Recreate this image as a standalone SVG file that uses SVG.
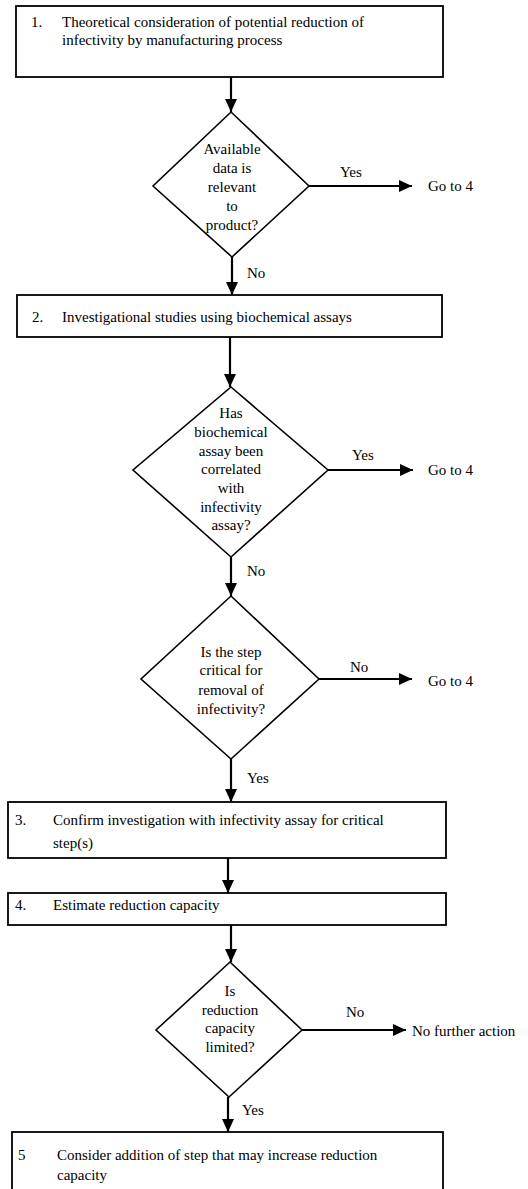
<svg xmlns="http://www.w3.org/2000/svg" width="528" height="1189" viewBox="0 0 528 1189">
<style>
.box{fill:#fff;stroke:#000;stroke-width:1.8}
.dia{fill:#fff;stroke:#000;stroke-width:1.6}
.t{font-family:"Liberation Serif","Times New Roman",serif;font-size:15px;fill:#000}
.c{text-anchor:middle}
.con line{stroke:#000;stroke-width:2.2}
</style>
<defs>
<marker id="ah" markerUnits="userSpaceOnUse" markerWidth="14" markerHeight="12" refX="13" refY="6" orient="auto">
<path d="M0,0 L13,6 L0,12 Z" fill="#000"/>
</marker>
</defs>
<rect width="528" height="1189" fill="#fff"/>
<g id="connectors" class="con">
<line x1="231" y1="77" x2="231" y2="112" marker-end="url(#ah)"/>
<line x1="309" y1="186" x2="412" y2="186" marker-end="url(#ah)"/>
<line x1="232" y1="257" x2="232" y2="295" marker-end="url(#ah)"/>
<line x1="230" y1="337" x2="230" y2="387" marker-end="url(#ah)"/>
<line x1="328" y1="470" x2="413" y2="470" marker-end="url(#ah)"/>
<line x1="231" y1="557" x2="231" y2="596" marker-end="url(#ah)"/>
<line x1="319" y1="679" x2="412" y2="679" marker-end="url(#ah)"/>
<line x1="231" y1="759" x2="231" y2="802" marker-end="url(#ah)"/>
<line x1="228" y1="858" x2="228" y2="893" marker-end="url(#ah)"/>
<line x1="231" y1="925" x2="231" y2="962" marker-end="url(#ah)"/>
<line x1="302" y1="1030" x2="406" y2="1030" marker-end="url(#ah)"/>
<line x1="228" y1="1097" x2="228" y2="1132" marker-end="url(#ah)"/>
</g>
<g id="labels">
<text class="t" x="340" y="177">Yes</text>
<text class="t" x="428" y="191">Go to 4</text>
<text class="t" x="247" y="278">No</text>
<text class="t" x="352" y="460">Yes</text>
<text class="t" x="428" y="475">Go to 4</text>
<text class="t" x="247" y="576">No</text>
<text class="t" x="350" y="672">No</text>
<text class="t" x="428" y="686">Go to 4</text>
<text class="t" x="247" y="783">Yes</text>
<text class="t" x="346" y="1017">No</text>
<text class="t" x="412" y="1036">No further action</text>
<text class="t" x="242" y="1115">Yes</text>
</g>
<g id="step1">
<rect class="box" x="16" y="6" width="427" height="71"/>
<text class="t" x="31" y="27">1.</text>
<text class="t" x="62" y="27">Theoretical consideration of potential reduction of</text>
<text class="t" x="62" y="45">infectivity by manufacturing process</text>
</g>
<g id="decision1">
<polygon class="dia" points="231,112 309,186 232,257 153,186"/>
<text class="t c" x="232" y="154">Available</text>
<text class="t c" x="232" y="173">data is</text>
<text class="t c" x="232" y="192">relevant</text>
<text class="t c" x="232" y="211">to</text>
<text class="t c" x="232" y="230">product?</text>
</g>
<g id="step2">
<rect class="box" x="17" y="295" width="425" height="42"/>
<text class="t" x="32" y="322">2.</text>
<text class="t" x="62" y="322">Investigational studies using biochemical assays</text>
</g>
<g id="decision2">
<polygon class="dia" points="231,387 328,470 231,557 133,470"/>
<text class="t c" x="231" y="418">Has</text>
<text class="t c" x="231" y="437">biochemical</text>
<text class="t c" x="231" y="456">assay been</text>
<text class="t c" x="231" y="474">correlated</text>
<text class="t c" x="231" y="493">with</text>
<text class="t c" x="231" y="512">infectivity</text>
<text class="t c" x="231" y="530">assay?</text>
</g>
<g id="decision3">
<polygon class="dia" points="231,596 319,679 231,759 141,679"/>
<text class="t c" x="231" y="657">Is the step</text>
<text class="t c" x="231" y="675">critical for</text>
<text class="t c" x="231" y="695">removal of</text>
<text class="t c" x="231" y="714">infectivity?</text>
</g>
<g id="step3">
<rect class="box" x="8" y="802" width="438" height="56"/>
<text class="t" x="15" y="825">3.</text>
<text class="t" x="53" y="825">Confirm investigation with infectivity assay for critical</text>
<text class="t" x="53" y="848">step(s)</text>
</g>
<g id="step4">
<rect class="box" x="8" y="893" width="438" height="32"/>
<text class="t" x="15" y="910">4.</text>
<text class="t" x="53" y="910">Estimate reduction capacity</text>
</g>
<g id="decision4">
<polygon class="dia" points="230,962 302,1030 229,1097 156,1030"/>
<text class="t c" x="230" y="996">Is</text>
<text class="t c" x="230" y="1015">reduction</text>
<text class="t c" x="230" y="1033">capacity</text>
<text class="t c" x="230" y="1052">limited?</text>
</g>
<g id="step5">
<rect class="box" x="12" y="1132" width="431" height="70"/>
<text class="t" x="18" y="1160">5</text>
<text class="t" x="57" y="1160">Consider addition of step that may increase reduction</text>
<text class="t" x="57" y="1180">capacity</text>
</g>
</svg>
